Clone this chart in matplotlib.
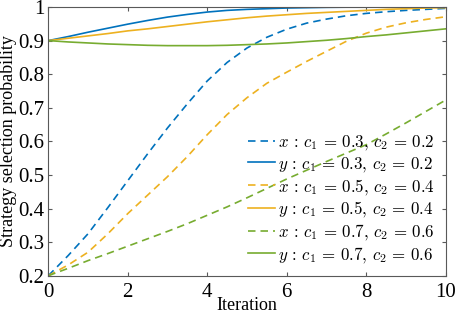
import numpy as np
import matplotlib
matplotlib.use('Agg')
import matplotlib.pyplot as plt

plt.rcParams['font.family'] = ['Liberation Serif', 'DejaVu Serif']
plt.rcParams['mathtext.fontset'] = 'cm'

# iteration grid
t = [0, 0.5, 1, 1.5, 2, 2.5, 3, 3.5, 4, 4.5, 5, 5.5, 6, 6.5, 7, 7.5, 8, 8.5, 9, 9.5, 10]

# x and y probability curves
x_03 = [0.2, 0.26, 0.325, 0.403, 0.483, 0.563, 0.64, 0.712, 0.78, 0.835, 0.878, 0.91, 0.934, 0.952, 0.964, 0.974, 0.981, 0.986, 0.99, 0.993, 0.996]
y_03 = [0.9, 0.912, 0.925, 0.937, 0.949, 0.96, 0.97, 0.978, 0.985, 0.99, 0.993, 0.995, 0.997, 0.998, 0.999, 0.9995, 0.9995, 1.0, 1.0, 1.0, 1.0]
x_05 = [0.2, 0.232, 0.27, 0.325, 0.385, 0.44, 0.495, 0.555, 0.62, 0.68, 0.73, 0.773, 0.806, 0.838, 0.868, 0.898, 0.922, 0.94, 0.953, 0.963, 0.971]
y_05 = [0.9, 0.907, 0.914, 0.921, 0.929, 0.935, 0.942, 0.949, 0.956, 0.962, 0.968, 0.973, 0.977, 0.981, 0.984, 0.987, 0.99, 0.993, 0.995, 0.997, 0.998]
x_07 = [0.2, 0.222, 0.245, 0.266, 0.288, 0.31, 0.332, 0.355, 0.38, 0.405, 0.432, 0.46, 0.488, 0.514, 0.54, 0.565, 0.59, 0.622, 0.655, 0.689, 0.723]
y_07 = [0.9, 0.896, 0.893, 0.89, 0.888, 0.886, 0.885, 0.885, 0.885, 0.886, 0.888, 0.89, 0.893, 0.897, 0.901, 0.906, 0.912, 0.917, 0.923, 0.929, 0.935]

labels = [r'$x\,:\,c_1\,=\,0.3,\,c_2\,=\,0.2$', r'$y\,:\,c_1\,=\,0.3,\,c_2\,=\,0.2$',
          r'$x\,:\,c_1\,=\,0.5,\,c_2\,=\,0.4$', r'$y\,:\,c_1\,=\,0.5,\,c_2\,=\,0.4$',
          r'$x\,:\,c_1\,=\,0.7,\,c_2\,=\,0.6$', r'$y\,:\,c_1\,=\,0.7,\,c_2\,=\,0.6$']

blue = '#0072BD'
yellow = '#EDB120'
green = '#77AC30'

fig = plt.figure(figsize=(4.57, 3.16), dpi=100)
ax = fig.add_axes([0.1057, 0.1275, 0.8696, 0.8503])

lw = 1.2
dash = (0, (4.5, 3))
ax.plot(t, x_03, color=blue, lw=lw, ls=dash, label=labels[0])
ax.plot(t, y_03, color=blue, lw=lw, label=labels[1])
ax.plot(t, x_05, color=yellow, lw=lw, ls=dash, label=labels[2])
ax.plot(t, y_05, color=yellow, lw=lw, label=labels[3])
ax.plot(t, x_07, color=green, lw=lw, ls=dash, label=labels[4])
ax.plot(t, y_07, color=green, lw=lw, label=labels[5])

ax.set_xlim(0, 10)
ax.set_ylim(0.2, 1)
ax.set_xticks([0, 2, 4, 6, 8, 10])
ax.set_yticks([0.2, 0.3, 0.4, 0.5, 0.6, 0.7, 0.8, 0.9, 1.0])
ax.set_yticklabels(['0.2', '0.3', '0.4', '0.5', '0.6', '0.7', '0.8', '0.9', '1'])
ax.tick_params(direction='in', top=True, right=True, labelsize=15, length=3,
               color='0.35', pad=3)
ax.tick_params(axis='x', pad=5)
for s in ax.spines.values():
    s.set_color('0.35')
    s.set_linewidth(0.8)

ax.set_xlabel('Iteration', fontsize=13, labelpad=-3.5)
ax.set_ylabel('Strategy selection probability', fontsize=13, labelpad=1)

ax.legend(loc='lower right', bbox_to_anchor=(1.0, 0.0), frameon=False,
          fontsize=12.2, handlelength=1.6, handletextpad=0.15, labelspacing=0.16,
          borderaxespad=0.25)

fig.savefig('out.png', dpi=100)
